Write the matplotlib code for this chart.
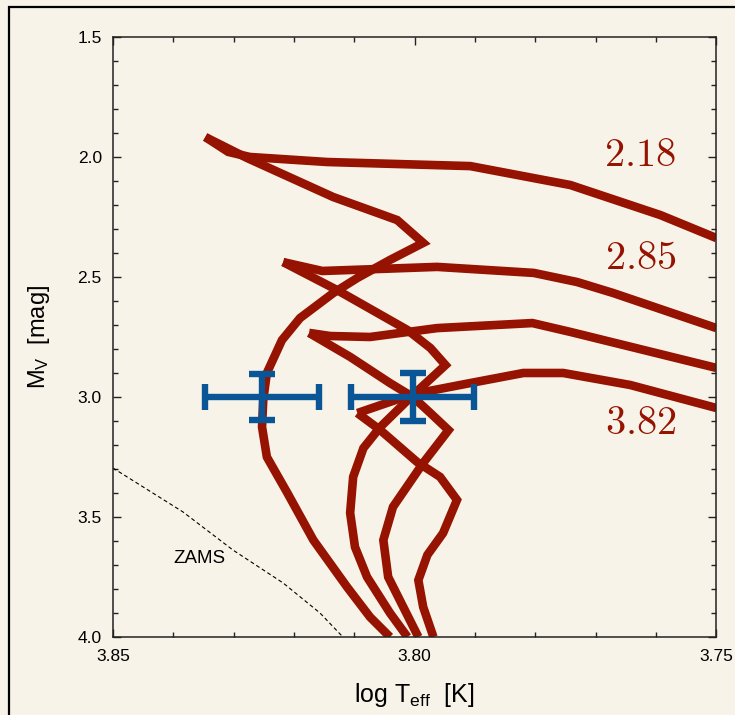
import matplotlib
matplotlib.use("Agg")
import matplotlib.pyplot as plt
from matplotlib.patches import Rectangle

plt.rcParams["font.family"] = ["Liberation Sans", "DejaVu Sans"]
plt.rcParams["mathtext.fontset"] = "custom"
plt.rcParams["mathtext.rm"] = "Liberation Sans"
plt.rcParams["mathtext.it"] = "Liberation Sans:italic"

BG = "#f7f3e8"
RED = "#951300"
BLUE = "#0a5596"

# isochrones: (log Teff, M_V)
iso_218_t = [3.8041, 3.8074, 3.8112, 3.8168, 3.8211, 3.8245, 3.8253, 3.8251, 3.8245,
             3.8220, 3.8190, 3.8135, 3.8095, 3.8041, 3.7986, 3.8029, 3.8062, 3.8135,
             3.8278, 3.8347, 3.8309, 3.8273, 3.8145, 3.7908, 3.7742, 3.7593, 3.7500]
iso_218_m = [4.00, 3.917, 3.792, 3.596, 3.400, 3.250, 3.125, 3.013, 2.900,
             2.763, 2.671, 2.567, 2.504, 2.429, 2.358, 2.263, 2.233, 2.167,
             2.004, 1.917, 1.979, 2.000, 2.021, 2.038, 2.117, 2.242, 2.338]

iso_285_t = [3.8012, 3.8041, 3.8079, 3.8099, 3.8107, 3.8102, 3.8085, 3.8057, 3.8003,
             3.7949, 3.7974, 3.8012, 3.8129, 3.8218, 3.8153, 3.7963, 3.7803, 3.7731,
             3.7671, 3.7500]
iso_285_m = [4.00, 3.900, 3.750, 3.625, 3.483, 3.333, 3.213, 3.125, 2.992,
             2.867, 2.796, 2.721, 2.554, 2.438, 2.475, 2.458, 2.483, 2.521,
             2.567, 2.713]

iso_330_t = [3.7994, 3.8019, 3.8044, 3.8052, 3.8036, 3.7986, 3.7944, 3.7974, 3.8003,
             3.8041, 3.8107, 3.8175, 3.8140, 3.8074, 3.7963, 3.7805, 3.7742, 3.7621,
             3.7500]
iso_330_m = [4.00, 3.875, 3.750, 3.596, 3.458, 3.275, 3.138, 3.067, 3.000,
             2.942, 2.833, 2.733, 2.746, 2.750, 2.713, 2.692, 2.729, 2.804,
             2.879]

iso_382_t = [3.7969, 3.7986, 3.7994, 3.7979, 3.7953, 3.7930, 3.7958, 3.7996, 3.8057,
             3.8095, 3.8003, 3.7908, 3.7820, 3.7754, 3.7643, 3.7500]
iso_382_m = [4.00, 3.875, 3.763, 3.658, 3.567, 3.429, 3.333, 3.271, 3.138,
             3.067, 2.988, 2.942, 2.900, 2.900, 2.950, 3.046]

zams_t = [3.8500, 3.8384, 3.8301, 3.8218, 3.8157, 3.8119]
zams_m = [3.296, 3.479, 3.638, 3.775, 3.900, 4.000]

# observed stars
star_t = [3.8253, 3.8003]
star_m = [3.00, 3.00]
star_terr = [0.0095, 0.0102]
star_merr = [0.095, 0.10]

iso_labels = ["2.18", "2.85", "3.82"]
label_t = [3.7626, 3.7626, 3.7626]
label_m = [1.99, 2.42, 3.11]

fig = plt.figure(figsize=(7.35, 7.15), dpi=100, facecolor=BG)
ax = fig.add_axes([0.1537, 0.1091, 0.8211, 0.8392])
ax.set_facecolor(BG)

for t, m in [(iso_218_t, iso_218_m), (iso_285_t, iso_285_m),
             (iso_330_t, iso_330_m), (iso_382_t, iso_382_m)]:
    # split at the blue hook tip so the reversal is not drawn as a miter spike
    k = t.index(max(t))
    for seg_t, seg_m in [(t[:k + 1], m[:k + 1]), (t[k:], m[k:])]:
        ax.plot(seg_t, seg_m, color=RED, lw=6.2,
                solid_joinstyle="miter", solid_capstyle="butt")

ax.plot(zams_t, zams_m, color="black", lw=0.8, ls=(0, (3.5, 2.5)))
ax.text(3.8356, 3.671, "ZAMS", fontsize=13.5, ha="center", va="center")

ax.errorbar(star_t, star_m, xerr=star_terr, yerr=star_merr, fmt="none",
            ecolor=BLUE, elinewidth=4.6, capsize=9.3, capthick=4.6, zorder=5)

for s, t, m in zip(iso_labels, label_t, label_m):
    ax.text(t, m, r"$\mathrm{%s}$" % s, math_fontfamily="cm", fontsize=29,
            color=RED, ha="center", va="center")

ax.set_xlim(3.85, 3.75)
ax.set_ylim(4.0, 1.5)
ax.set_xticks([3.85, 3.80, 3.75])
ax.set_xticklabels(["3.85", "3.80", "3.75"])
ax.set_xticks([3.84, 3.83, 3.82, 3.81, 3.79, 3.78, 3.77, 3.76], minor=True)
ax.set_yticks([1.5, 2.0, 2.5, 3.0, 3.5, 4.0])
ax.set_yticks([1.6, 1.7, 1.8, 1.9, 2.1, 2.2, 2.3, 2.4, 2.6, 2.7, 2.8, 2.9,
               3.1, 3.2, 3.3, 3.4, 3.6, 3.7, 3.8, 3.9], minor=True)
ax.yaxis.set_major_formatter(matplotlib.ticker.FormatStrFormatter("%.1f"))
ax.tick_params(which="both", direction="in", top=True, right=True,
               color="#222222", labelsize=12.5)
ax.tick_params(which="major", length=6, width=1.0)
ax.tick_params(which="minor", length=3.5, width=1.0)
ax.tick_params(axis="x", pad=9)
ax.tick_params(axis="y", pad=8)
for sp in ax.spines.values():
    sp.set_color("#222222")
    sp.set_linewidth(1.1)

ax.set_xlabel(r"log T$_\mathrm{eff}$  [K]", fontsize=18, labelpad=12)
ax.set_ylabel(r"M$_\mathrm{V}$  [mag]", fontsize=17, labelpad=18)

fig.patches.append(Rectangle((9 / 735, -0.05), 1.2, 1 - 7 / 715 + 0.05,
                             transform=fig.transFigure, fill=False,
                             ec="black", lw=1.6))

fig.savefig("out.png", dpi=100, facecolor=BG)
